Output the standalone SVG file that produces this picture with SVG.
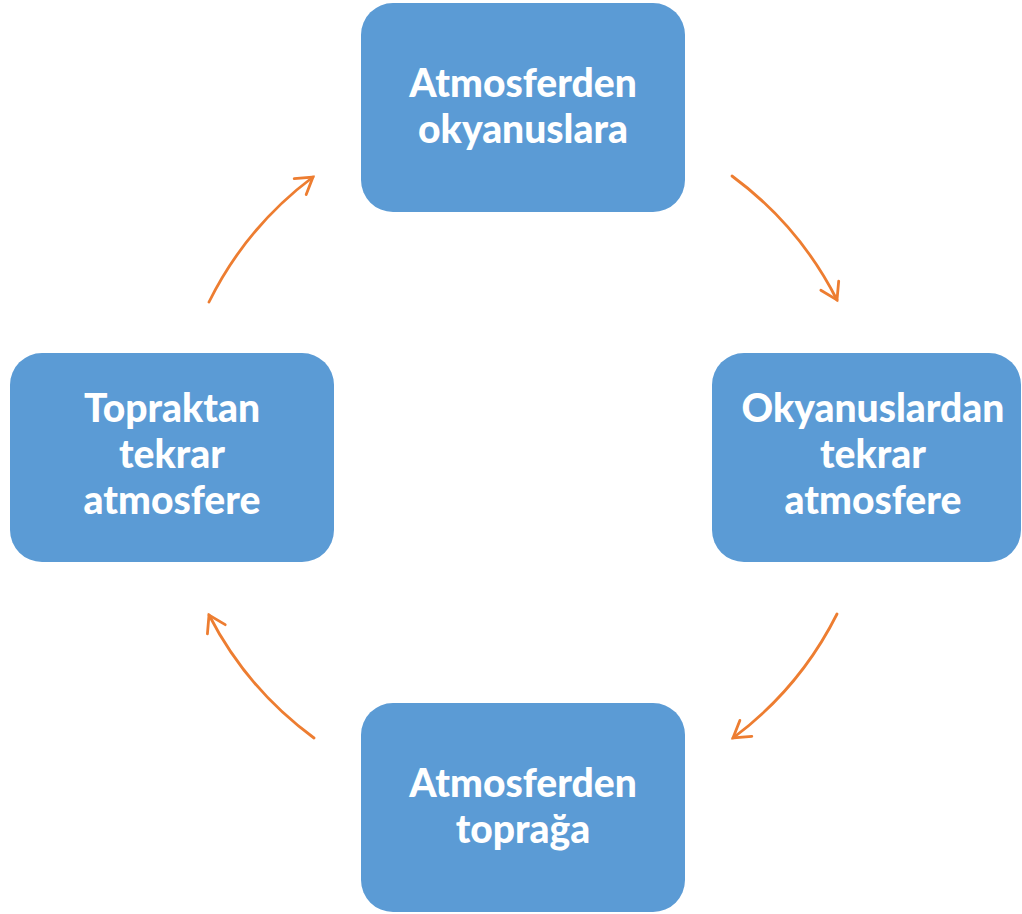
<svg xmlns="http://www.w3.org/2000/svg" width="1022" height="914" viewBox="0 0 1022 914">
<defs>
<style>
.box{fill:#5B9BD5;}
.lbl{fill:#FFFFFF;font-family:Lato,"Liberation Sans",sans-serif;font-weight:900;font-size:39px;text-anchor:middle;}
.arc{fill:none;stroke:#ED7D31;stroke-width:2.8;stroke-linecap:round;}
</style>
<marker id="ah" markerUnits="userSpaceOnUse" markerWidth="40" markerHeight="40" viewBox="-20 -20 40 40" refX="0" refY="0" orient="auto">
<path d="M-16,-10 L0,0 L-16,10" fill="none" stroke="#ED7D31" stroke-width="2.8" stroke-linecap="round" stroke-linejoin="miter"/>
</marker>
</defs>
<rect width="1022" height="914" fill="#FFFFFF"/>
<g id="n1">
<rect class="box" x="361" y="3" width="324" height="209" rx="32"/>
<text class="lbl" x="523" y="97">Atmosferden</text>
<text class="lbl" x="523" y="143">okyanuslara</text>
</g>
<g id="n2">
<rect class="box" x="712" y="353" width="309" height="209" rx="32"/>
<text class="lbl" x="873" y="422">Okyanuslardan</text>
<text class="lbl" x="873" y="468">tekrar</text>
<text class="lbl" x="873" y="514">atmosfere</text>
</g>
<g id="n3">
<rect class="box" x="361" y="703" width="324" height="209" rx="32"/>
<text class="lbl" x="523" y="797">Atmosferden</text>
<text class="lbl" x="523" y="843">toprağa</text>
</g>
<g id="n4">
<rect class="box" x="10" y="353" width="324" height="209" rx="32"/>
<text class="lbl" x="172" y="422">Topraktan</text>
<text class="lbl" x="172" y="468">tekrar</text>
<text class="lbl" x="172" y="514">atmosfere</text>
</g>
<g id="connectors">
<path class="arc" d="M732,176 A351,351 0 0 1 837,300" marker-end="url(#ah)"/>
<path class="arc" d="M837,614 A351,351 0 0 1 733,738" marker-end="url(#ah)"/>
<path class="arc" d="M314,738 A351,351 0 0 1 209,615" marker-end="url(#ah)"/>
<path class="arc" d="M209,302 A351,351 0 0 1 313,177" marker-end="url(#ah)"/>
</g>
</svg>
